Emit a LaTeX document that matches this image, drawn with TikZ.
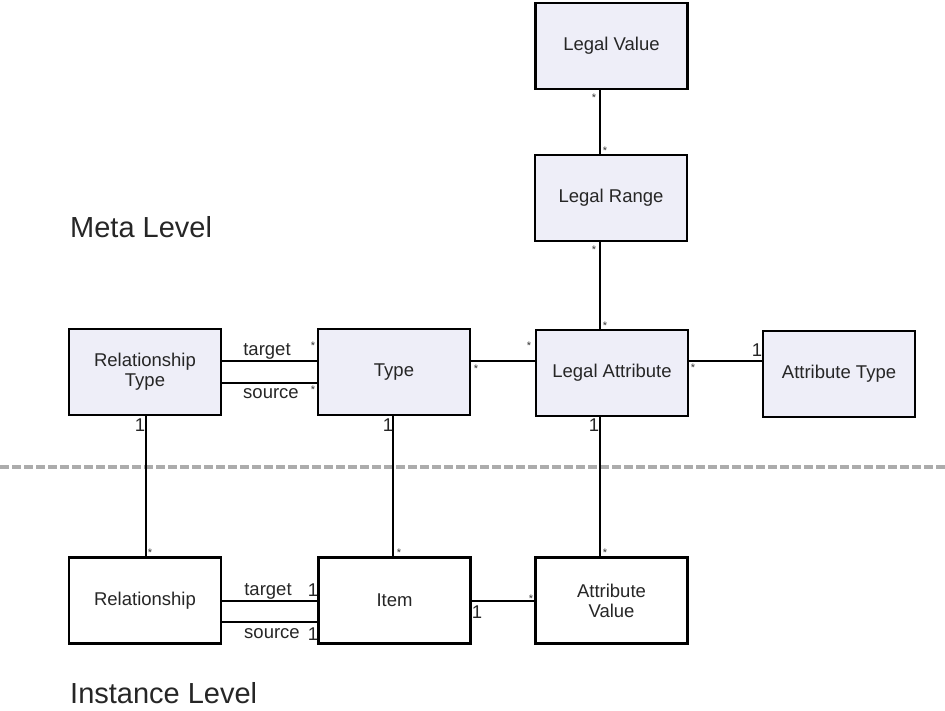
\documentclass[tikz,border=0pt]{standalone}
\usepackage{fontspec}
\setmainfont{Liberation Sans}
\begin{document}
\begin{tikzpicture}[x=1pt,y=-1pt,
  box/.style={draw=black,line width=2.2pt,minimum width=152pt,minimum height=86pt,inner sep=0pt,align=center,font=\fontsize{18.5}{20}\selectfont,text=black!85},
  meta/.style={box,fill={rgb,255:red,238;green,238;blue,248}},
  inst/.style={box,fill=white},
  conn/.style={line width=2pt,black},
  lbl/.style={font=\fontsize{18.5}{20}\selectfont,text=black!85,inner sep=0pt},
  star/.style={font=\fontsize{11}{11}\selectfont,text=black!80,inner sep=0pt},
  big/.style={font=\fontsize{29}{32}\selectfont,text=black!85,inner sep=0pt,anchor=west}]
\useasboundingbox (0,0) rectangle (945,710);

\node[meta] (LV) at (611.5,46) {Legal Value};
\node[meta] (LR) at (611,198) {Legal Range};
\node[meta] (LA) at (612,373) {Legal Attribute};
\node[meta] (AT) at (839,374) {Attribute Type};
\node[meta] (RT) at (145,372) {Relationship\\Type};
\node[meta] (T) at (394,372) {Type};
\node[inst] (R) at (145,600.5) {Relationship};
\node[inst] (I) at (394.5,600.5) {Item};
\node[inst] (AV) at (611.5,600.5) {Attribute\\Value};

\node[big] (meta) at (70,227) {Meta Level};
\node[big] (inst) at (70,693) {Instance Level};

\draw[line width=4pt,gray!65,dash pattern=on 9pt off 3pt] (0,467) -- (945,467);

% vertical connectors
\draw[conn] ([xshift=-12pt]LV.south) -- ([xshift=-12pt]LV.south |- LR.north);
\draw[conn] ([xshift=-11pt]LR.south) -- ([xshift=-11pt]LR.south |- LA.north);
\draw[conn] ([xshift=-12pt]LA.south) -- ([xshift=-12pt]LA.south |- AV.north);
\draw[conn] ([xshift=-1pt]T.south) -- ([xshift=-1pt]T.south |- I.north);
\draw[conn] ([xshift=1pt]RT.south) -- ([xshift=1pt]RT.south |- R.north);

% horizontal connectors
\draw[conn] ([yshift=11pt]RT.east) -- ([yshift=11pt]RT.east -| T.west);
\draw[conn] ([yshift=-11pt]RT.east) -- ([yshift=-11pt]RT.east -| T.west);
\draw[conn] ([yshift=11pt]T.east) -- ([yshift=11pt]T.east -| LA.west);
\draw[conn] ([yshift=12pt]LA.east) -- ([yshift=12pt]LA.east -| AT.west);
\draw[conn] (R.east) -- (R.east -| I.west);
\draw[conn] ([yshift=-21pt]R.east) -- ([yshift=-21pt]R.east -| I.west);
\draw[conn] (I.east) -- (I.east -| AV.west);

% labels
\node[lbl] (t1) at (267,351) {target};
\node[lbl] (s1) at (271,394) {source};
\node[lbl] (t2) at (268,591) {target};
\node[lbl] (s2) at (272,634) {source};

% multiplicities
\node[star] at (594,98) {*};
\node[star] at (605,151) {*};
\node[star] at (594,250) {*};
\node[star] at (605,326) {*};
\node[star] at (313,346) {*};
\node[star] at (313,390) {*};
\node[star] at (476,369) {*};
\node[star] at (529,346) {*};
\node[star] at (693,368) {*};
\node[lbl] at (757,350) {1};
\node[lbl] at (140,425) {1};
\node[lbl] at (388,425) {1};
\node[lbl] at (594,425) {1};
\node[star] at (150,553) {*};
\node[star] at (399,553) {*};
\node[star] at (605,553) {*};
\node[lbl] at (313,590) {1};
\node[lbl] at (313,634) {1};
\node[lbl] at (477,612) {1};
\node[star] at (531,599) {*};
\end{tikzpicture}
\end{document}
